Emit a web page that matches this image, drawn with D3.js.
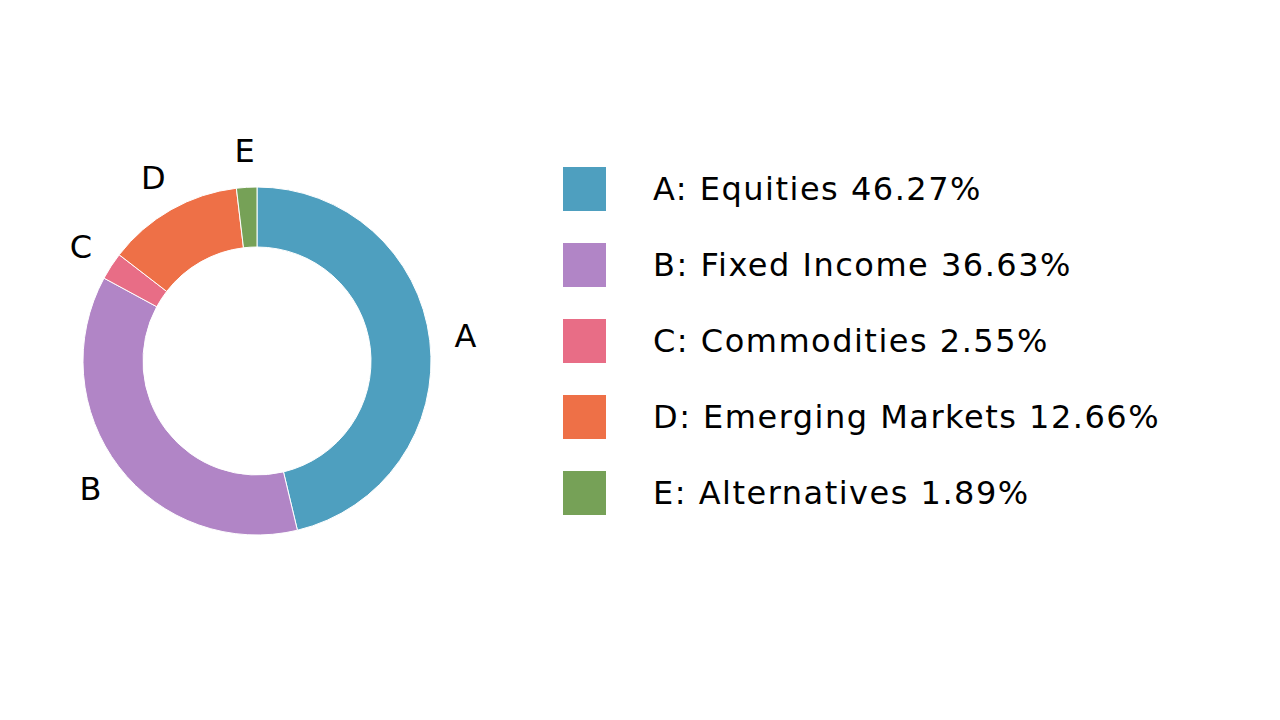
<!DOCTYPE html>
<html>
<head>
<script src="https://cdn.jsdelivr.net/npm/d3@7"></script>
<style>body{margin:0;background:#fff}text{font-family:"DejaVu Sans",Arial,sans-serif;fill:#000}</style>
</head>
<body>
<svg id="chart" width="1280" height="720"></svg>
<script>
var keys = ["A", "B", "C", "D", "E"];
var names = ["Equities", "Fixed Income", "Commodities", "Emerging Markets", "Alternatives"];
var values = [46.27, 36.63, 2.55, 12.66, 1.89];
var colors = ["#4e9fbf", "#b185c6", "#e86d86", "#ee7047", "#76a157"];

var svg = d3.select("#chart");
var g = svg.append("g").attr("transform", "translate(257,361)");

var pie = d3.pie().sort(null).value(function(d, i) { return values[i]; });
var arcs = pie(keys);
var arc = d3.arc().innerRadius(114).outerRadius(174);
var labelArc = d3.arc().innerRadius(210).outerRadius(210);

g.selectAll("path").data(arcs).enter().append("path")
  .attr("d", arc)
  .attr("fill", function(d, i) { return colors[i]; })
  .attr("stroke", "#fff").attr("stroke-width", 1);

g.selectAll("text").data(arcs).enter().append("text")
  .attr("transform", function(d) { return "translate(" + labelArc.centroid(d) + ")"; })
  .attr("text-anchor", "middle").attr("dominant-baseline", "central")
  .attr("font-size", 32)
  .text(function(d) { return d.data; });

var y = d3.scalePoint().domain(keys).range([189, 493]);
var leg = svg.append("g").selectAll("g").data(keys).enter().append("g")
  .attr("transform", function(d) { return "translate(563," + y(d) + ")"; });
leg.append("rect").attr("x", 0).attr("y", -22).attr("width", 43).attr("height", 44)
  .attr("fill", function(d, i) { return colors[i]; });
leg.append("text").attr("x", 90).attr("dominant-baseline", "central").attr("font-size", 32)
  .attr("letter-spacing", 1.5)
  .text(function(d, i) { return d + ": " + names[i] + " " + values[i].toFixed(2) + "%"; });
</script>
</body>
</html>
